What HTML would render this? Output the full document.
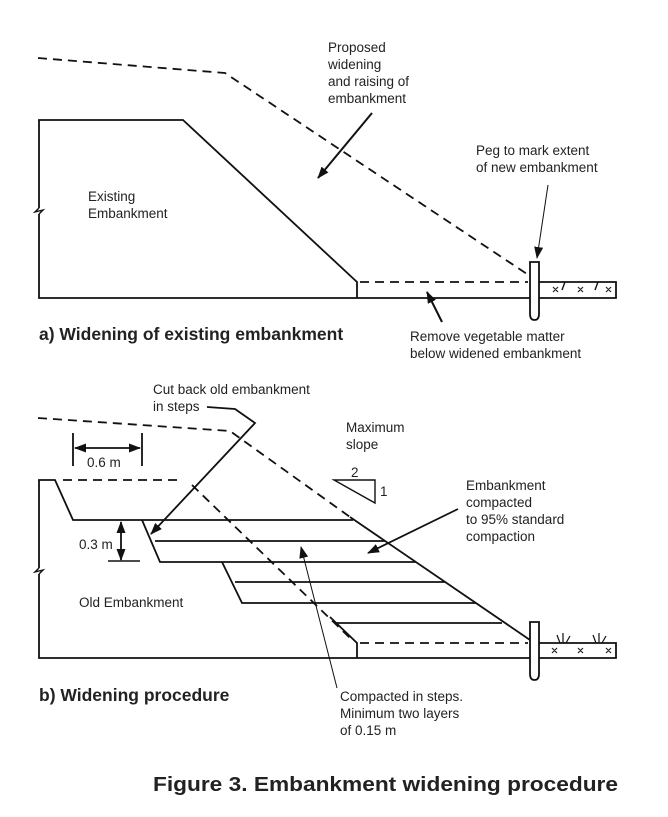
<!DOCTYPE html>
<html><head><meta charset="utf-8"><style>html,body{margin:0;padding:0;background:#fff}svg{display:block}text{font-family:"Liberation Sans",sans-serif;fill:#222}</style></head><body>
<svg width="668" height="817" viewBox="0 0 668 817" xmlns="http://www.w3.org/2000/svg">
<defs>
<marker id="ah2" markerWidth="12" markerHeight="9" refX="11" refY="4.5" orient="auto" markerUnits="userSpaceOnUse"><path d="M0,0 L12,4.5 L0,9 z" fill="#111"/></marker>
<marker id="ahs" markerWidth="12" markerHeight="9" refX="1" refY="4.5" orient="auto" markerUnits="userSpaceOnUse"><path d="M12,0 L0,4.5 L12,9 z" fill="#111"/></marker>
</defs>
<g stroke="#111" fill="none" stroke-width="1.8">
<!-- (a) -->
<polyline points="38,58 225,73 530,276" stroke-dasharray="9,6"/>
<polyline points="39,208 39,120 183,120 357,282 357,298"/>
<polyline points="39,214 39,298 530,298"/>
<line x1="360" y1="282" x2="528" y2="282" stroke-dasharray="9,6"/>
<polyline points="539,282 616,282 616,298 539,298"/>
<path d="M530,262 H539 V314 Q539,320 534.5,320 Q530,320 530,314 Z" fill="#fff"/>
<path d="M39,208 L35,212 L43,210 L39,214" stroke-width="1.4"/>
<line x1="372" y1="113" x2="318" y2="178" stroke-width="2" marker-end="url(#ah2)"/>
<line x1="548" y1="185" x2="537" y2="258" stroke-width="1" marker-end="url(#ah2)"/>
<line x1="442" y1="322" x2="427" y2="292" stroke-width="2" marker-end="url(#ah2)"/>
<path d="M562,290 l3,-8 M595,290 l3,-8" stroke-width="1.4"/>
<!-- (b) -->
<polyline points="38,418 230,431 350,517" stroke-dasharray="9,6"/>
<polyline points="39,568 39,480 55,480 73,520 353,520"/>
<polyline points="39,574 39,658 530,658"/>
<path d="M39,568 L35,572 L43,570 L39,574" stroke-width="1.4"/>
<line x1="63" y1="480" x2="183" y2="480" stroke-dasharray="9,6"/>
<line x1="192" y1="485" x2="350" y2="638" stroke-dasharray="9,6"/>
<line x1="350" y1="517" x2="530" y2="640"/>
<polyline points="142,520 160,562 416,562"/>
<line x1="155" y1="541" x2="385" y2="541"/>
<polyline points="222,562 242,603 476,603"/>
<line x1="235" y1="582" x2="445" y2="582"/>
<polyline points="330,617 357,643 357,658"/>
<line x1="335" y1="623" x2="502" y2="623"/>
<line x1="360" y1="643" x2="528" y2="643" stroke-dasharray="9,6"/>
<polyline points="539,643 616,643 616,658 539,658"/>
<path d="M530,622 H539 V674 Q539,680 534.5,680 Q530,680 530,674 Z" fill="#fff"/>
<path d="M560,643 l-3,-8 M563,643 v-10 M566,643 l4,-7 M596,643 l-3,-8 M599,643 v-10 M602,643 l4,-7" stroke-width="1.2"/>
<polygon points="334,480 375,480 375,503" stroke-width="1.4"/>
<line x1="73" y1="433" x2="73" y2="466"/>
<line x1="142" y1="433" x2="142" y2="466"/>
<line x1="75" y1="448" x2="140" y2="448" stroke-width="1.8" marker-start="url(#ahs)" marker-end="url(#ah2)"/>
<line x1="121" y1="522" x2="121" y2="560" stroke-width="1.8" marker-start="url(#ahs)" marker-end="url(#ah2)"/>
<line x1="108" y1="561" x2="140" y2="561" stroke-width="1.4"/>
<polyline points="207,407 235,409 255,423 151,534" stroke-width="1.8" marker-end="url(#ah2)"/>
<line x1="458" y1="509" x2="368" y2="553" stroke-width="1.8" marker-end="url(#ah2)"/>
<line x1="337" y1="688" x2="301" y2="547" stroke-width="1" marker-end="url(#ah2)"/>
</g>
<g stroke="#222" stroke-width="1.2">
<path d="M553,287 l5,5 M558,287 l-5,5 M578,287 l5,5 M583,287 l-5,5 M606,287 l5,5 M611,287 l-5,5"/>
<path d="M552,648 l5,5 M557,648 l-5,5 M578,648 l5,5 M583,648 l-5,5 M606,648 l5,5 M611,648 l-5,5"/>
</g>
<g font-size="13.5">
<text x="328" y="52">Proposed</text>
<text x="328" y="69">widening</text>
<text x="328" y="86">and raising of</text>
<text x="328" y="103">embankment</text>
<text x="476" y="155">Peg to mark extent</text>
<text x="476" y="172">of new embankment</text>
<text x="88" y="201">Existing</text>
<text x="88" y="218">Embankment</text>
<text x="410" y="341">Remove vegetable matter</text>
<text x="410" y="358">below widened embankment</text>
<text x="153" y="394">Cut back old embankment</text>
<text x="153" y="411">in steps</text>
<text x="346" y="432">Maximum</text>
<text x="346" y="449">slope</text>
<text x="351" y="477">2</text>
<text x="380" y="496">1</text>
<text x="87" y="467">0.6 m</text>
<text x="79" y="549">0.3 m</text>
<text x="466" y="490">Embankment</text>
<text x="466" y="507">compacted</text>
<text x="466" y="524">to 95% standard</text>
<text x="466" y="541">compaction</text>
<text x="79" y="607">Old Embankment</text>
<text x="340" y="701">Compacted in steps.</text>
<text x="340" y="718">Minimum two layers</text>
<text x="340" y="735">of 0.15 m</text>
</g>
<text x="39" y="340" font-size="17.5" font-weight="bold" fill="#111">a) Widening of existing embankment</text>
<text x="39" y="701" font-size="17.5" font-weight="bold" fill="#111">b) Widening procedure</text>
<text x="153" y="791" font-size="20" font-weight="bold" fill="#111" textLength="465" lengthAdjust="spacingAndGlyphs">Figure 3. Embankment widening procedure</text>
</svg>
</body></html>
